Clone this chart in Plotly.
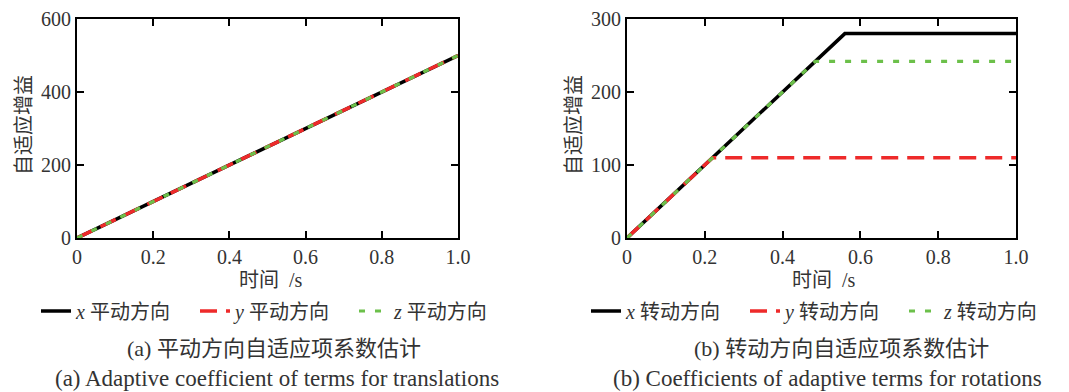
import plotly.graph_objects as go

# ---- data ----
t_trans = [0.0, 1.0]
trans_x = [0.0, 500.0]
trans_y = [0.0, 500.0]
trans_z = [0.0, 500.0]

t_rot_x = [0.0, 0.56, 1.0]
rot_x = [0.0, 280.0, 280.0]
t_rot_y = [0.0, 0.22, 1.0]
rot_y = [0.0, 110.0, 110.0]
t_rot_z = [0.0, 0.484, 1.0]
rot_z = [0.0, 242.0, 242.0]

x_ticks = [0, 0.2, 0.4, 0.6, 0.8, 1.0]
x_ticktext = ["0", "0.2", "0.4", "0.6", "0.8", "1.0"]
y1_ticks = [0, 200, 400, 600]
y2_ticks = [0, 100, 200, 300]

names_trans = ["<i>x</i> 平动方向", "<i>y</i> 平动方向", "<i>z</i> 平动方向"]
names_rot = ["<i>x</i> 转动方向", "<i>y</i> 转动方向", "<i>z</i> 转动方向"]
captions = ["(a) 平动方向自适应项系数估计", "(b) 转动方向自适应项系数估计"]
captions_en = ["(a) Adaptive coefficient of terms for translations",
               "(b) Coefficients of adaptive terms for rotations"]

BLACK = "#000000"
RED = "#ee2a2a"
GREEN = "#6cc04a"
FONT = "Liberation Serif, Noto Sans CJK SC"
TXT = "#333333"

fig = go.Figure()

styles = [
    dict(color=BLACK, width=3.5, dash="solid"),
    dict(color=RED, width=3.5, dash="17px,9px"),
    dict(color=GREEN, width=3.2, dash="6px,10px"),
]

# left panel
for (tx, vy), nm, st in zip([(t_trans, trans_x), (t_trans, trans_y), (t_trans, trans_z)], names_trans, styles):
    fig.add_trace(go.Scatter(x=tx, y=vy, mode="lines", name=nm, line=st,
                             xaxis="x", yaxis="y", legend="legend"))
# right panel
for (tx, vy), nm, st in zip([(t_rot_x, rot_x), (t_rot_y, rot_y), (t_rot_z, rot_z)], names_rot, styles):
    fig.add_trace(go.Scatter(x=tx, y=vy, mode="lines", name=nm, line=st,
                             xaxis="x2", yaxis="y2", legend="legend2"))

W, H = 1069, 392
def px(x):
    return x / W
def py(y):
    return 1 - y / H

axis_common = dict(showline=True, linecolor="black", linewidth=1.8, mirror="ticks",
                   ticks="inside", ticklen=7, tickwidth=1.5, tickcolor="black",
                   showgrid=False, zeroline=False, automargin=False,
                   tickfont=dict(family=FONT, size=20, color=TXT))

legend_common = dict(orientation="h", xanchor="left", yanchor="middle",
                     font=dict(family=FONT, size=20, color=TXT), bgcolor="rgba(0,0,0,0)",
                     itemwidth=30, tracegroupgap=0, entrywidth=114, entrywidthmode="pixels")

fig.update_layout(
    width=W, height=H,
    margin=dict(l=0, r=0, t=0, b=0, pad=0, autoexpand=False),
    paper_bgcolor="white", plot_bgcolor="white",
    font=dict(family=FONT, color=TXT),
    xaxis=dict(domain=[px(77), px(458)], range=[0, 1.0], tickvals=x_ticks, ticktext=x_ticktext,
               anchor="y", **axis_common),
    yaxis=dict(domain=[py(238), py(19)], range=[0, 600], tickvals=y1_ticks,
               anchor="x", **axis_common),
    xaxis2=dict(domain=[px(627), px(1016)], range=[0, 1.0], tickvals=x_ticks, ticktext=x_ticktext,
                anchor="y2", **axis_common),
    yaxis2=dict(domain=[py(238), py(19)], range=[0, 300], tickvals=y2_ticks,
                anchor="x2", **axis_common),
    legend=dict(x=px(36), y=py(311), **legend_common),
    legend2=dict(x=px(586), y=py(311), **legend_common),
    showlegend=True,
)

annos = []
# axis titles
for cx in [271, 824]:
    annos.append(dict(x=px(cx), y=py(280), xref="paper", yref="paper", text="时间 &nbsp;/s",
                      showarrow=False, font=dict(family=FONT, size=20, color=TXT),
                      xanchor="center", yanchor="middle"))
for cx in [24, 574]:
    annos.append(dict(x=px(cx), y=py(125), xref="paper", yref="paper", text="自适应增益",
                      showarrow=False, textangle=-90, font=dict(family=FONT, size=20, color=TXT),
                      xanchor="center", yanchor="middle"))
# captions
for cx, cap in zip([274, 841], captions):
    annos.append(dict(x=px(cx), y=py(348), xref="paper", yref="paper", text=cap,
                      showarrow=False, font=dict(family=FONT, size=22, color=TXT),
                      xanchor="center", yanchor="middle"))
for cx, cap in zip([277, 827], captions_en):
    annos.append(dict(x=px(cx), y=py(378), xref="paper", yref="paper", text=cap,
                      showarrow=False, font=dict(family=FONT, size=23, color=TXT),
                      xanchor="center", yanchor="middle"))
fig.update_layout(annotations=annos)

fig.write_html("out.html")
